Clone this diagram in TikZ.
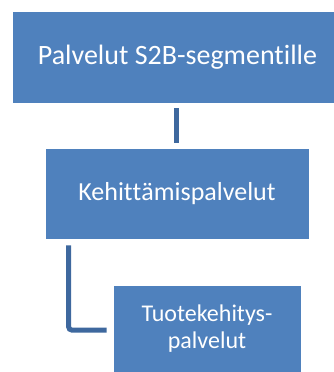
\documentclass[tikz,border=0pt]{standalone}
\usepackage{fontspec}
\setmainfont[RawFeature={-liga;-clig;-calt;-dlig}]{Carlito}
\definecolor{boxblue}{RGB}{79,129,189}
\definecolor{linkblue}{RGB}{62,104,158}
\newcommand{\nolg}{\kern0pt{}}
\begin{document}
\begin{tikzpicture}[x=1pt,y=-1pt,
  orgbox/.style={fill=boxblue,draw=white,line width=0.6pt,text=white,align=center,inner sep=0pt},
  link/.style={draw=linkblue,line width=5pt}]
\useasboundingbox (0,0) rectangle (334,372);
\clip (0,0) rectangle (334,372);
\node[orgbox,minimum width=331pt,minimum height=92pt,font=\fontsize{28}{33}\selectfont] (top) at (177.5,57) {Palvelut S2B-segment\nolg ille};
\node[orgbox,minimum width=264pt,minimum height=91pt,font=\fontsize{26}{31}\selectfont] (mid) at (177,193.5) {Kehit\nolg t\nolg ämispalvelut};
\node[orgbox,minimum width=188pt,minimum height=88pt,font=\fontsize{24}{27}\selectfont] (bot) at (207,329) {Tuotekehit\nolg ys-\\palvelut};
\draw[link] ([xshift=-1pt,yshift=-5pt]top.south -| mid.north) -- ([xshift=-1pt,yshift=5pt]mid.north);
\draw[link,rounded corners=3pt] ([xshift=24pt,yshift=-6pt]mid.south west) |- ([xshift=-6pt,yshift=-1pt]bot.west);
\end{tikzpicture}
\end{document}
